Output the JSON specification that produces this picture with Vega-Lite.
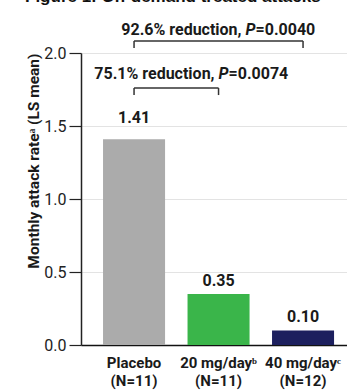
{
  "$schema": "https://vega.github.io/schema/vega-lite/v6.json",
  "width": 266,
  "height": 292,
  "autosize": {"type": "none"},
  "padding": {"left": 81, "top": 53, "right": 0, "bottom": 47},
  "title": {
    "text": "Figure 1: On-demand treated attacks",
    "anchor": "start",
    "frame": "group",
    "font": "Liberation Sans",
    "fontSize": 17,
    "fontWeight": "bold",
    "color": "#111111",
    "baseline": "alphabetic",
    "dx": -56,
    "dy": 11,
    "offset": 14
  },
  "config": {
    "view": {"stroke": null},
    "font": "Roboto",
    "axis": {"labelFont": "Roboto", "titleFont": "Roboto"}
  },
  "datasets": {
    "bars": [
      {"group": "Placebo|(N=11)", "rate": 1.41},
      {"group": "20 mg/dayᵇ|(N=11)", "rate": 0.35},
      {"group": "40 mg/dayᶜ|(N=12)", "rate": 0.10}
    ],
    "brackets": [
      {"from": "Placebo|(N=11)", "to": "40 mg/dayᶜ|(N=12)", "top": 2.082, "foot": 2.034},
      {"from": "Placebo|(N=11)", "to": "20 mg/dayᵇ|(N=11)", "top": 1.760, "foot": 1.712}
    ],
    "note1": [{"at": "20 mg/dayᵇ|(N=11)", "y": 2.123, "lead": "92.6% reduction,", "p": "P", "rest": "=0.0040"}],
    "note2": [{"at": "20 mg/dayᵇ|(N=11)", "y": 1.822, "lead": "75.1% reduction,", "p": "P", "rest": "=0.0074"}]
  },
  "layer": [
    {
      "data": {"name": "bars"},
      "mark": {"type": "bar"},
      "encoding": {
        "x": {
          "field": "group",
          "type": "nominal",
          "scale": {
            "domain": ["Placebo|(N=11)", "20 mg/dayᵇ|(N=11)", "40 mg/dayᶜ|(N=12)"],
            "paddingInner": 0.266,
            "paddingOuter": 0.207,
            "align": 0.63
          },
          "axis": {
            "title": null,
            "labelExpr": "split(datum.label, '|')",
            "labelAngle": 0,
            "labelFontWeight": "bold",
            "labelFontSize": 15,
            "labelColor": "#1a1a1a",
            "labelLineHeight": 18,
            "labelPadding": 10,
            "ticks": false,
            "domainColor": "#111111",
            "domainWidth": 1.5
          }
        },
        "y": {
          "field": "rate",
          "type": "quantitative",
          "scale": {"domain": [0, 2], "nice": false},
          "axis": {
            "title": "Monthly attack rateᵃ (LS mean)",
            "titleFontSize": 15.5,
            "titleFontWeight": "bold",
            "titleColor": "#1a1a1a",
            "titleAnchor": "end",
            "titlePadding": 2,
            "values": [0, 0.5, 1, 1.5, 2],
            "format": ".1f",
            "labelFontSize": 16,
            "labelColor": "#222222",
            "labelPadding": 3,
            "tickSize": 12,
            "tickColor": "#222222",
            "tickWidth": 1.2,
            "domainColor": "#222222",
            "domainWidth": 1.5,
            "gridColor": "#e3e3e3",
            "gridWidth": 1.2
          }
        },
        "color": {
          "field": "group",
          "type": "nominal",
          "scale": {
            "domain": ["Placebo|(N=11)", "20 mg/dayᵇ|(N=11)", "40 mg/dayᶜ|(N=12)"],
            "range": ["#ababab", "#3ab54a", "#1c1f5e"]
          },
          "legend": null
        }
      }
    },
    {
      "data": {"name": "bars"},
      "transform": [{"filter": "datum.rate > 1"}],
      "mark": {"type": "text", "fontWeight": "bold", "fontSize": 16, "baseline": "alphabetic", "dy": -16, "color": "#1a1a1a"},
      "encoding": {
        "x": {"field": "group", "type": "nominal"},
        "y": {"field": "rate", "type": "quantitative"},
        "text": {"field": "rate", "type": "quantitative", "format": ".2f"}
      }
    },
    {
      "data": {"name": "bars"},
      "transform": [{"filter": "datum.rate <= 1"}],
      "mark": {"type": "text", "fontWeight": "bold", "fontSize": 16, "baseline": "alphabetic", "dy": -8, "color": "#1a1a1a"},
      "encoding": {
        "x": {"field": "group", "type": "nominal"},
        "y": {"field": "rate", "type": "quantitative"},
        "text": {"field": "rate", "type": "quantitative", "format": ".2f"}
      }
    },
    {
      "data": {"name": "brackets"},
      "mark": {"type": "rule", "color": "#333333", "strokeWidth": 1.5},
      "encoding": {
        "x": {"field": "from", "type": "nominal"},
        "x2": {"field": "to"},
        "y": {"field": "top", "type": "quantitative"}
      }
    },
    {
      "data": {"name": "brackets"},
      "mark": {"type": "rule", "color": "#333333", "strokeWidth": 1.5},
      "encoding": {
        "x": {"field": "from", "type": "nominal"},
        "y": {"field": "top", "type": "quantitative"},
        "y2": {"field": "foot"}
      }
    },
    {
      "data": {"name": "brackets"},
      "mark": {"type": "rule", "color": "#333333", "strokeWidth": 1.5},
      "encoding": {
        "x": {"field": "to", "type": "nominal"},
        "y": {"field": "top", "type": "quantitative"},
        "y2": {"field": "foot"}
      }
    },
    {
      "data": {"name": "note1"},
      "mark": {"type": "text", "fontWeight": "bold", "fontSize": 16, "align": "right", "baseline": "alphabetic", "dx": -4, "color": "#1a1a1a"},
      "encoding": {
        "x": {"field": "at", "type": "nominal", "bandPosition": 0.935},
        "y": {"field": "y", "type": "quantitative"},
        "text": {"field": "lead"}
      }
    },
    {
      "data": {"name": "note1"},
      "mark": {"type": "text", "fontWeight": "bold", "fontStyle": "italic", "fontSize": 16, "align": "left", "baseline": "alphabetic", "color": "#1a1a1a"},
      "encoding": {
        "x": {"field": "at", "type": "nominal", "bandPosition": 0.935},
        "y": {"field": "y", "type": "quantitative"},
        "text": {"field": "p"}
      }
    },
    {
      "data": {"name": "note1"},
      "mark": {"type": "text", "fontWeight": "bold", "fontSize": 16, "align": "left", "baseline": "alphabetic", "dx": 10, "color": "#1a1a1a"},
      "encoding": {
        "x": {"field": "at", "type": "nominal", "bandPosition": 0.935},
        "y": {"field": "y", "type": "quantitative"},
        "text": {"field": "rest"}
      }
    },
    {
      "data": {"name": "note2"},
      "mark": {"type": "text", "fontWeight": "bold", "fontSize": 16, "align": "right", "baseline": "alphabetic", "dx": -4, "color": "#1a1a1a"},
      "encoding": {
        "x": {"field": "at", "type": "nominal", "bandPosition": 0.5},
        "y": {"field": "y", "type": "quantitative"},
        "text": {"field": "lead"}
      }
    },
    {
      "data": {"name": "note2"},
      "mark": {"type": "text", "fontWeight": "bold", "fontStyle": "italic", "fontSize": 16, "align": "left", "baseline": "alphabetic", "color": "#1a1a1a"},
      "encoding": {
        "x": {"field": "at", "type": "nominal", "bandPosition": 0.5},
        "y": {"field": "y", "type": "quantitative"},
        "text": {"field": "p"}
      }
    },
    {
      "data": {"name": "note2"},
      "mark": {"type": "text", "fontWeight": "bold", "fontSize": 16, "align": "left", "baseline": "alphabetic", "dx": 10, "color": "#1a1a1a"},
      "encoding": {
        "x": {"field": "at", "type": "nominal", "bandPosition": 0.5},
        "y": {"field": "y", "type": "quantitative"},
        "text": {"field": "rest"}
      }
    }
  ]
}
